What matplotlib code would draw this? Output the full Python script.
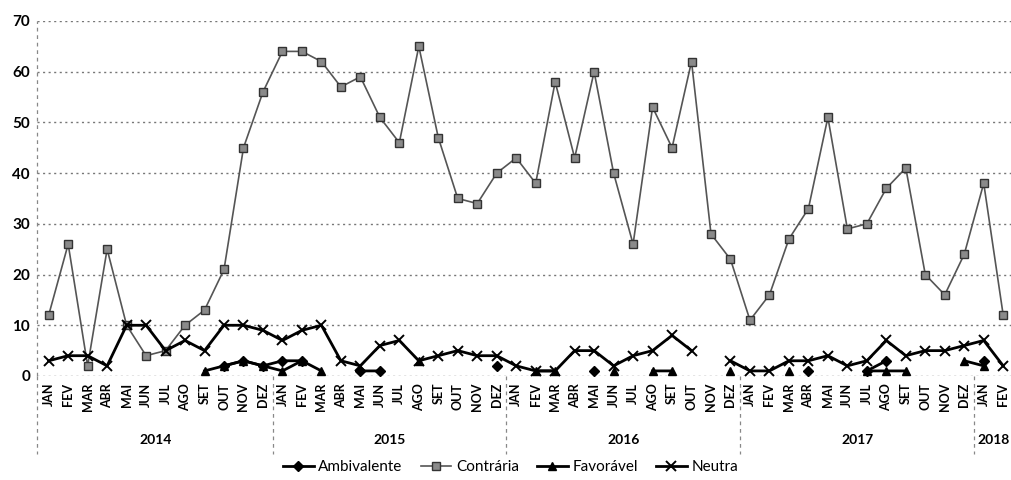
import numpy as np
import matplotlib
matplotlib.use("Agg")
import matplotlib.pyplot as plt
import matplotlib.transforms as mtransforms
from matplotlib.lines import Line2D

plt.rcParams['font.family'] = ['Lato', 'DejaVu Sans']

months = ["JAN", "FEV", "MAR", "ABR", "MAI", "JUN", "JUL", "AGO", "SET", "OUT", "NOV", "DEZ"]
years = ["2014", "2015", "2016", "2017", "2018"]
month_labels = months * 4 + months[:2]

N = None
contraria = [12, 26, 2, 25, 10, 4, 5, 10, 13, 21, 45, 56,
             64, 64, 62, 57, 59, 51, 46, 65, 47, 35, 34, 40,
             43, 38, 58, 43, 60, 40, 26, 53, 45, 62, 28, 23,
             11, 16, 27, 33, 51, 29, 30, 37, 41, 20, 16, 24,
             38, 12]
neutra = [3, 4, 4, 2, 10, 10, 5, 7, 5, 10, 10, 9,
          7, 9, 10, 3, 2, 6, 7, 3, 4, 5, 4, 4,
          2, 1, 1, 5, 5, 2, 4, 5, 8, 5, N, 3,
          1, 1, 3, 3, 4, 2, 3, 7, 4, 5, 5, 6,
          7, 2]
ambivalente = [N, N, N, N, N, N, N, N, N, 2, 3, 2,
               3, 3, N, N, 1, 1, N, N, N, N, N, 2,
               N, N, N, N, 1, N, N, N, N, N, N, N,
               N, N, N, 1, N, N, 1, 3, N, N, N, N,
               3, N]
favoravel = [N, N, N, N, N, N, N, N, 1, 2, 3, 2,
             1, 3, 1, N, N, N, N, 3, N, N, N, N,
             N, 1, 1, N, N, 1, N, 1, 1, N, N, 1,
             N, N, 1, N, N, N, 1, 1, 1, N, N, 3,
             2, N]

def arr(v):
    return np.array([np.nan if x is None else x for x in v], dtype=float)

x = np.arange(len(month_labels))

fig = plt.figure(figsize=(10.11, 4.8), dpi=100)
ax = fig.add_axes([0.0366, 0.2167, 0.9634, 0.7396])
ax.set_xlim(-0.6, len(x) - 0.6)
ax.set_ylim(0, 70)

for yv in range(0, 71, 10):
    ax.axhline(yv, color='#777777', lw=1.0, ls=(0, (1.5, 2.5)), zorder=0)

ax.plot(x, arr(contraria), color='#555555', lw=1.2, marker='s', ms=6,
        mfc='#8a8a8a', mec='#333333', mew=1.0, label='Contrária', zorder=3)
ax.plot(x, arr(neutra), color='black', lw=2.0, marker='x', ms=7, mew=1.4,
        label='Neutra', zorder=4)
ax.plot(x, arr(favoravel), color='black', lw=2.0, marker='^', ms=6,
        label='Favorável', zorder=5)
ax.plot(x, arr(ambivalente), color='black', lw=2.0, marker='D', ms=5,
        label='Ambivalente', zorder=6)

for s in ax.spines.values():
    s.set_visible(False)
ax.set_yticks(range(0, 71, 10))
ax.set_yticklabels([str(v) for v in range(0, 71, 10)], fontsize=11, fontweight='bold')
ax.tick_params(axis='y', length=0, pad=5)
ax.set_xticks(x)
ax.set_xticklabels(month_labels, rotation=90, fontsize=9, fontweight='bold')
ax.tick_params(axis='x', length=0, pad=5)

trans = mtransforms.blended_transform_factory(ax.transData, ax.transAxes)
# left axis dashed line
ax.plot([-0.6, -0.6], [0, 1], transform=trans, color='#888888', lw=0.9,
        ls=(0, (3, 3)), clip_on=False)
# year separators and labels
bounds = [-0.6, 11.5, 23.5, 35.5, 47.5]
for b in bounds:
    ax.plot([b, b], [0, -0.22], transform=trans, color='#888888', lw=0.9,
            ls=(0, (3, 3)), clip_on=False)
centers = [5.5, 17.5, 29.5, 41.5, 48.5]
for c, yl in zip(centers, years):
    ax.text(c, -0.18, yl, transform=trans, ha='center', va='center',
            fontsize=10, fontweight='bold')

handles = [
    Line2D([], [], color='black', lw=2, marker='D', ms=5),
    Line2D([], [], color='#555555', lw=1.2, marker='s', ms=6, mfc='#8a8a8a', mec='#333333'),
    Line2D([], [], color='black', lw=2, marker='^', ms=6),
    Line2D([], [], color='black', lw=2, marker='x', ms=7, mew=1.4),
]
fig.legend(handles, ['Ambivalente', 'Contrária', 'Favorável', 'Neutra'],
           loc='center', bbox_to_anchor=(0.505, 0.027), ncol=4, frameon=False,
           fontsize=11, handlelength=2.0, columnspacing=1.2, handletextpad=0.3)

fig.savefig('out.png', dpi=100)
